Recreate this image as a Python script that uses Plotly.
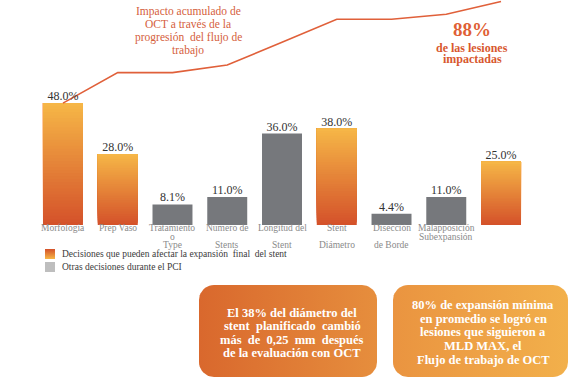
import math
import plotly.graph_objects as go

# ---------------- data ----------------
categories = ["Morfología", "Prep Vaso", "Tratamiento<br>o<br>Type", "Número de<br><br>Stents",
              "Longitud del<br><br>Stent", "Stent<br><br>Diámetro", "Disección<br><br>de Borde",
              "Malapposición<br>Subexpansión", ""]
values = [48.0, 28.0, 8.1, 11.0, 36.0, 38.0, 4.4, 11.0, 25.0]
is_oct = [True, True, False, False, False, True, False, False, True]
cumulative = [48, 60, 60, 63, 72, 81, 81, 83, 88]
legend_labels = ["Decisiones que pueden afectar la expansión  final  del stent",
                 "Otras decisiones durante el PCI"]
line_title = ["Impacto acumulado de", "OCT a través de la", "progresión  del flujo de", "trabajo"]
big_pct = "88%"
big_sub = ["de las lesiones", "impactadas"]
box_texts = [
    ["El 38% del diámetro del", "stent  planificado  cambió", "más  de  0,25  mm  después", "de la evaluación con OCT"],
    ["80% de expansión mínima", "en promedio se logró en", "lesiones que siguieron a", "MLD MAX, el", "Flujo de trabajo de OCT"],
]

W, H = 570, 381
FONT = "Liberation Serif"
ORANGE_TOP = (246, 183, 71)
ORANGE_BOT = (212, 81, 42)
GRAY = "#76787C"
LINE_C = "#E0603A"

def mix(t):
    return "rgb(%d,%d,%d)" % tuple(round(b + (a - b) * t) for a, b in zip(ORANGE_TOP, ORANGE_BOT))

x_idx = list(range(len(values)))
oct_x = [i for i in x_idx if is_oct[i]]
oct_v = [values[i] for i in oct_x]
oth_x = [i for i in x_idx if not is_oct[i]]
oth_v = [values[i] for i in oth_x]

fig = go.Figure()
BW = 0.73
N = 40
for k in range(N):
    f = k / N
    fig.add_bar(x=oct_x, y=[v * (1 - f) for v in oct_v], base=[v * f for v in oct_v],
                width=BW, marker=dict(color=mix((k + 0.5) / N), line=dict(width=0)),
                showlegend=False, hoverinfo="skip")
fig.add_bar(x=oth_x, y=oth_v, width=BW, marker=dict(color=GRAY, line=dict(width=0)),
            showlegend=False, hoverinfo="skip")

fig.add_scatter(x=x_idx, y=cumulative, mode="lines", line=dict(color=LINE_C, width=1.6),
                showlegend=False, hoverinfo="skip")
fig.add_scatter(x=x_idx, y=values, mode="text", text=[f"{v:.1f}%" for v in values],
                textposition="top center", textfont=dict(family=FONT, size=12, color="#333333"),
                cliponaxis=False, showlegend=False, hoverinfo="skip")

# ---------- decorative overlay in pixel coordinates ----------
def rrect(x0, y0, x1, y1, r, n=10):
    xs, ys = [], []
    for cx, cy, a0 in [(x1 - r, y0 + r, -90), (x1 - r, y1 - r, 0), (x0 + r, y1 - r, 90), (x0 + r, y0 + r, 180)]:
        for j in range(n + 1):
            a = math.radians(a0 + 90 * j / n)
            xs.append(cx + r * math.cos(a))
            ys.append(cy + r * math.sin(a))
    xs.append(xs[0]); ys.append(ys[0])
    return xs, ys

boxes = [((199, 285, 377, 377), "#D9682D", "#E68E3D"), ((393, 285, 568, 377), "#EA9440", "#F2B04B")]
for (x0, y0, x1, y1), c0, c1 in boxes:
    bx, by = rrect(x0, y0, x1, y1, 15)
    fig.add_scatter(x=bx, y=by, xaxis="x2", yaxis="y2", mode="lines", fill="toself",
                    line=dict(width=0), fillcolor=c0,
                    fillgradient=dict(type="horizontal", colorscale=[[0, c0], [1, c1]]),
                    showlegend=False, hoverinfo="skip")

# legend orange swatch (gradient)
sx, sy = [45, 55, 55, 45, 45], [249, 249, 259, 259, 249]
fig.add_scatter(x=sx, y=sy, xaxis="x2", yaxis="y2", mode="lines", fill="toself",
                line=dict(width=0), fillcolor=mix(0.5),
                fillgradient=dict(type="vertical", colorscale=[[0, mix(1)], [1, mix(0)]]),
                showlegend=False, hoverinfo="skip")

shapes = [dict(type="rect", xref="x2", yref="y2", x0=45, x1=55, y0=262, y1=272,
               fillcolor="#BEBEBE", line=dict(width=0))]

ann = []
for i, lab in enumerate(categories):
    for j, t in enumerate(lab.split("<br>")):
        if t:
            ann.append(dict(x=i, xref="x", y=228 + 8.7 * j, yref="y2", text=t, showarrow=False,
                            xanchor="center", yanchor="middle",
                            font=dict(family=FONT, size=9.5, color="#8A8A8A")))
for j, t in enumerate(legend_labels):
    ann.append(dict(x=60, y=254 + 12.5 * j, xref="x2", yref="y2", text=t, showarrow=False,
                    xanchor="left", yanchor="middle", font=dict(family=FONT, size=9.5, color="#3A3A3A")))
for j, t in enumerate(line_title):
    ann.append(dict(x=188, y=11 + 13 * j, xref="x2", yref="y2", text=t, showarrow=False,
                    xanchor="center", yanchor="middle", font=dict(family=FONT, size=11.5, color="#D5603C")))
ann.append(dict(x=472, y=29, xref="x2", yref="y2", text=big_pct, showarrow=False,
                xanchor="center", yanchor="middle",
                font=dict(family=FONT, size=19, color="#DF5F36", weight=600)))
for j, t in enumerate(big_sub):
    ann.append(dict(x=472, y=48 + 11 * j, xref="x2", yref="y2", text=t, showarrow=False,
                    xanchor="center", yanchor="middle",
                    font=dict(family=FONT, size=12, color="#D8582F", weight="bold")))
box_cfg = [(292, 313, 13.4), (483, 305, 13.7)]
for (cx, y0, dy), lines in zip(box_cfg, box_texts):
    for j, t in enumerate(lines):
        ann.append(dict(x=cx, y=y0 + dy * j, xref="x2", yref="y2", text=t, showarrow=False,
                        xanchor="center", yanchor="middle",
                        font=dict(family=FONT, size=12.5, color="white", weight="bold")))

fig.update_layout(
    width=W, height=H, margin=dict(l=0, r=0, t=0, b=0),
    paper_bgcolor="white", plot_bgcolor="rgba(0,0,0,0)",
    barmode="overlay", showlegend=False,
    xaxis=dict(domain=[35.6 / W, 528.4 / W], range=[-0.5, 8.5], visible=False, fixedrange=True),
    yaxis=dict(domain=[(H - 225) / H, 1], range=[0, 88.6], visible=False, fixedrange=True),
    xaxis2=dict(domain=[0, 1], range=[0, W], visible=False, anchor="y2", fixedrange=True),
    yaxis2=dict(domain=[0, 1], range=[H, 0], visible=False, anchor="x2", fixedrange=True),
    shapes=shapes, annotations=ann,
)
fig.write_html("out.html", config={"displayModeBar": False},
               post_script="document.body.style.margin='0';document.body.style.overflow='hidden';")
